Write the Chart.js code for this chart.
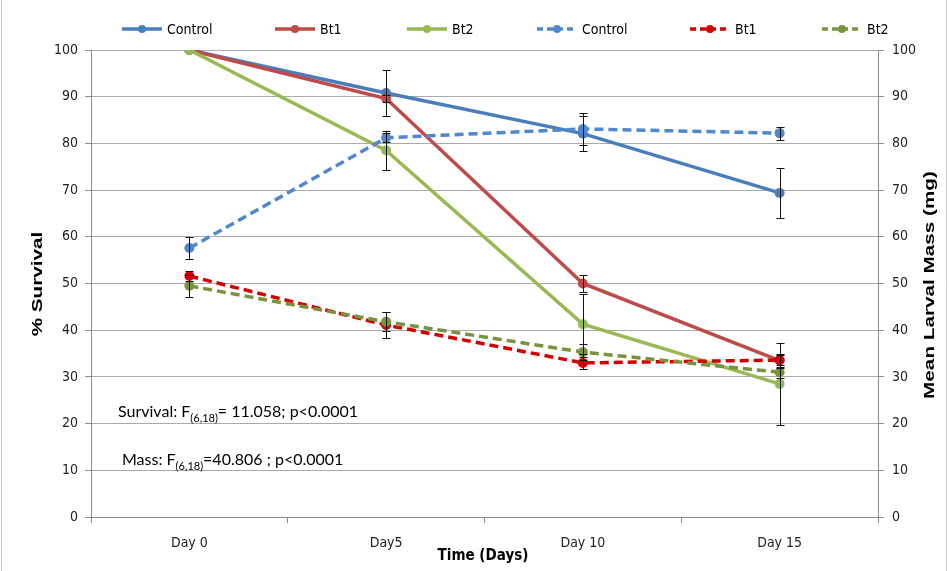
<!DOCTYPE html>
<html><head><meta charset="utf-8">
<script src="https://cdn.jsdelivr.net/npm/chart.js@4.4.1/dist/chart.umd.min.js"></script>
<style>html,body{margin:0;padding:0;background:#fff;} canvas{display:block}</style>
</head><body>
<canvas id="c" width="949" height="571"></canvas>
<script>
// ---- data ----
const categories = ['Day 0', 'Day5', 'Day 10', 'Day 15'];
const seriesNames = ['Control', 'Bt1', 'Bt2', 'Control', 'Bt1', 'Bt2'];
const survivalControl = [100, 90.8, 82.1, 69.4];
const survivalBt1 = [100, 89.6, 50.0, 33.5];
const survivalBt2 = [100, 78.5, 41.3, 28.5];
const massControl = [57.6, 81.2, 83.1, 82.2];
const massBt1 = [51.6, 41.1, 33.0, 33.6];
const massBt2 = [49.5, 41.8, 35.3, 31.0];
const survivalControlErr = [0, 5.0, 3.7, 5.3];
const survivalBt1Err = [0, 0.8, 1.9, 1.5];
const survivalBt2Err = [0, 4.2, 6.4, 8.8];
const massControlErr = [2.3, 1.0, 3.4, 1.4];
const massBt1Err = [1.0, 2.8, 1.3, 1.0];
const massBt2Err = [2.4, 2.0, 1.7, 1.2];
const axisMin = 0, axisMax = 100, axisStep = 10;
const leftTitle = '% Survival';
const rightTitle = 'Mean Larval Mass (mg)';
const xTitle = 'Time (Days)';
const note1 = ['Survival: F', '(6,18)', '= 11.058; p<0.0001'];
const note2 = ['Mass: F', '(6,18)', '=40.806 ; p<0.0001'];

const NARROW = "'Liberation Sans Narrow','Arial Narrow','DejaVu Sans Condensed',sans-serif";
const ARIAL = "'Liberation Sans',Arial,sans-serif";
const CAL = "Lato,'Open Sans',sans-serif";

const COLORS = ['#4a7ebb', '#be4b48', '#98b954', '#4f88cc', '#d40000', '#77933c'];
const LEGEND_X = [122, 275, 407, 537, 690, 822];

function mk(i, data, err, axis, dashed) {
  return {
    label: seriesNames[i], data: data, errors: err, yAxisID: axis,
    borderColor: COLORS[i], backgroundColor: COLORS[i],
    borderWidth: 3.5, borderDash: dashed ? [9, 5] : [],
    pointRadius: 5, pointHoverRadius: 5, pointBorderWidth: 0,
    pointBackgroundColor: COLORS[i], tension: 0, fill: false,
    order: 6 - i
  };
}

const errorBars = {
  id: 'errorBars',
  afterDatasetsDraw(chart) {
    const ctx = chart.ctx;
    ctx.save();
    ctx.strokeStyle = '#111'; ctx.lineWidth = 1;
    chart.data.datasets.forEach((ds, i) => {
      const meta = chart.getDatasetMeta(i);
      const sc = chart.scales[ds.yAxisID];
      ds.errors.forEach((e, j) => {
        if (!e) return;
        const x = Math.round(meta.data[j].x) + 0.5;
        const v = ds.data[j];
        const yt = Math.round(sc.getPixelForValue(v + e)) + 0.5;
        const yb = Math.round(sc.getPixelForValue(v - e)) + 0.5;
        ctx.beginPath();
        ctx.moveTo(x, yt); ctx.lineTo(x, yb);
        ctx.moveTo(x - 4, yt); ctx.lineTo(x + 4, yt);
        ctx.moveTo(x - 4, yb); ctx.lineTo(x + 4, yb);
        ctx.stroke();
      });
    });
    ctx.restore();
  }
};

function vText(ctx, text, cx, cy, stretch) {
  ctx.save();
  ctx.translate(cx, cy); ctx.rotate(-Math.PI / 2); ctx.scale(stretch, 1);
  ctx.font = 'bold 15px ' + ARIAL; ctx.fillStyle = '#000'; ctx.textAlign = 'center'; ctx.textBaseline = 'middle';
  ctx.fillText(text, 0, 0);
  ctx.restore();
}

const extras = {
  id: 'extras',
  afterDraw(chart) {
    const ctx = chart.ctx;
    ctx.save();
    // frame
    ctx.strokeStyle = '#c8c8c8'; ctx.lineWidth = 1;
    ctx.beginPath(); ctx.moveTo(1.5, 0); ctx.lineTo(1.5, 571); ctx.moveTo(946.5, 0); ctx.lineTo(946.5, 571); ctx.stroke();
    // legend
    ctx.font = '14px ' + NARROW; ctx.textBaseline = 'middle'; ctx.textAlign = 'left';
    const y = 29;
    chart.data.datasets.forEach((ds, i) => {
      const x = LEGEND_X[i];
      ctx.strokeStyle = ds.borderColor; ctx.fillStyle = ds.borderColor; ctx.lineWidth = 3.5;
      ctx.setLineDash(ds.borderDash.length ? [6, 4] : []);
      ctx.beginPath(); ctx.moveTo(x, y); ctx.lineTo(x + 40, y); ctx.stroke();
      ctx.setLineDash([]);
      ctx.beginPath(); ctx.arc(x + 20, y, 4, 0, Math.PI * 2); ctx.fill();
      ctx.fillStyle = '#000';
      ctx.fillText(ds.label, x + 45, y + 1);
    });
    // axis titles
    vText(ctx, leftTitle, 38, 284, 1.38);
    vText(ctx, rightTitle, 930, 285, 1.38);
    ctx.font = 'bold 15px ' + NARROW; ctx.fillStyle = '#000'; ctx.textAlign = 'center'; ctx.textBaseline = 'middle';
    ctx.fillText(xTitle, 483, 556);
    // notes
    function note(parts, x0, yb) {
      ctx.textAlign = 'left'; ctx.textBaseline = 'alphabetic'; ctx.fillStyle = '#000';
      ctx.font = '16px ' + CAL; ctx.fillText(parts[0], x0, yb);
      let xx = x0 + ctx.measureText(parts[0]).width;
      ctx.font = '11px ' + CAL; ctx.fillText(parts[1], xx, yb + 5);
      xx += ctx.measureText(parts[1]).width;
      ctx.font = '16px ' + CAL; ctx.fillText(parts[2], xx, yb);
    }
    note(note1, 118, 417);
    note(note2, 122, 465);
    ctx.restore();
  }
};

new Chart(document.getElementById('c'), {
  type: 'line',
  data: {
    labels: categories,
    datasets: [
      mk(0, survivalControl, survivalControlErr, 'y', false),
      mk(1, survivalBt1, survivalBt1Err, 'y', false),
      mk(2, survivalBt2, survivalBt2Err, 'y', false),
      mk(3, massControl, massControlErr, 'y1', true),
      mk(4, massBt1, massBt1Err, 'y1', true),
      mk(5, massBt2, massBt2Err, 'y1', true)
    ]
  },
  options: {
    responsive: false, devicePixelRatio: 1, animation: false,
    layout: { padding: { top: 50, left: 0, right: 0, bottom: 0 } },
    plugins: { legend: { display: false }, tooltip: { enabled: false } },
    scales: {
      x: {
        type: 'category', offset: true,
        grid: { offset: true, drawOnChartArea: false, tickLength: 6, color: '#8c8c8c' },
        border: { color: '#8c8c8c' },
        ticks: { color: '#222', font: { family: NARROW, size: 14 }, padding: 12, maxRotation: 0 },
        afterFit(s) { s.height = 54; }
      },
      y: {
        position: 'left', min: axisMin, max: axisMax,
        ticks: { stepSize: axisStep, color: '#222', font: { family: NARROW, size: 14 }, padding: 7 },
        grid: { color: '#aaaaaa', tickColor: '#8c8c8c', tickLength: 6 },
        border: { color: '#8c8c8c' },
        afterFit(s) { s.width = 91; }
      },
      y1: {
        position: 'right', min: axisMin, max: axisMax,
        ticks: { stepSize: axisStep, color: '#222', font: { family: NARROW, size: 14 }, padding: 8 },
        grid: { drawOnChartArea: false, tickColor: '#8c8c8c', tickLength: 6 },
        border: { color: '#8c8c8c' },
        afterFit(s) { s.width = 71; }
      }
    }
  },
  plugins: [errorBars, extras]
});
</script>
</body></html>
